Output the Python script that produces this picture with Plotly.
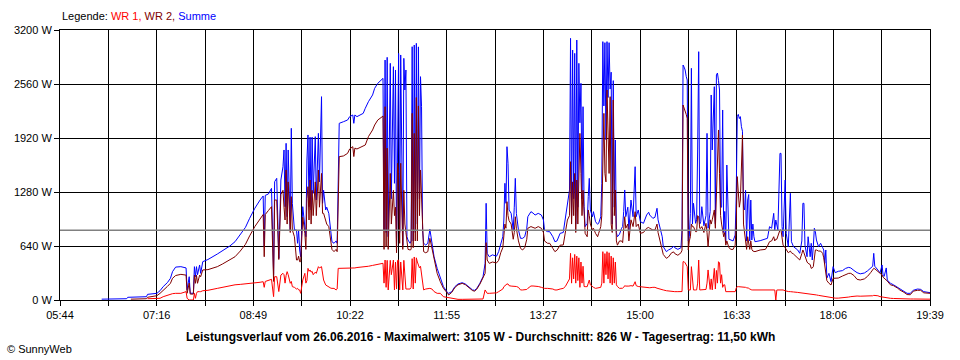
import datetime as dt
import plotly.graph_objects as go

DAY = "2016-06-26"
X_START, X_END = "05:44", "19:39"
TICK_LABELS = ["05:44", "07:16", "08:49", "10:22", "11:55", "13:27", "15:00", "16:33", "18:06", "19:39"]
Y_TICKS = [0, 640, 1280, 1920, 2560, 3200]
Y_TICK_LABELS = ["0 W", "640 W", "1280 W", "1920 W", "2560 W", "3200 W"]
AVERAGE = 826

TIMES = [
    "06:24", "06:48", "06:49", "06:52", "07:07", "07:08", "07:17", "07:20", "07:23", "07:27",
    "07:30", "07:32", "07:35", "07:40", "07:45", "07:46", "07:48", "07:49", "07:52", "07:53",
    "07:54", "07:55", "07:56", "07:58", "07:59", "08:01", "08:06", "08:15", "08:20", "08:27",
    "08:32", "08:37", "08:42", "08:46", "08:51", "08:56", "08:59", "09:00", "09:01", "09:04",
    "09:07", "09:09", "09:10", "09:12", "09:13", "09:14", "09:16", "09:18", "09:19", "09:20",
    "09:21", "09:22", "09:23", "09:25", "09:26", "09:27", "09:29", "09:31", "09:32", "09:33",
    "09:34", "09:35", "09:37", "09:39", "09:40", "09:41", "09:42", "09:43", "09:44", "09:45",
    "09:46", "09:47", "09:49", "09:50", "09:52", "09:53", "09:55", "09:56", "09:57", "09:59",
    "10:00", "10:02", "10:04", "10:05", "10:07", "10:09", "10:10", "10:11", "10:12", "10:16",
    "10:20", "10:22", "10:25", "10:26", "10:27", "10:29", "10:32", "10:35", "10:37", "10:40",
    "10:44", "10:46", "10:49", "10:53", "10:54", "10:55", "10:56", "10:57", "10:58", "10:59",
    "11:01", "11:02", "11:04", "11:05", "11:06", "11:07", "11:08", "11:09", "11:10", "11:11",
    "11:13", "11:14", "11:15", "11:16", "11:17", "11:18", "11:20", "11:21", "11:22", "11:23",
    "11:24", "11:25", "11:26", "11:27", "11:28", "11:29", "11:30", "11:31", "11:32", "11:33",
    "11:35", "11:37", "11:39", "11:41", "11:43", "11:46", "11:49", "11:52", "11:56", "11:57",
    "12:00", "12:03", "12:06", "12:10", "12:13", "12:16", "12:20", "12:22", "12:24", "12:27",
    "12:30", "12:32", "12:33", "12:34", "12:36", "12:39", "12:43", "12:45", "12:47", "12:49",
    "12:50", "12:51", "12:52", "12:53", "12:54", "12:55", "12:57", "12:59", "13:00", "13:01",
    "13:02", "13:04", "13:06", "13:08", "13:10", "13:12", "13:13", "13:16", "13:18", "13:20",
    "13:23", "13:26", "13:28", "13:29", "13:32", "13:34", "13:37", "13:39", "13:41", "13:44",
    "13:47", "13:49", "13:51", "13:53", "13:54", "13:55", "13:56", "13:57", "13:58", "13:59",
    "14:00", "14:01", "14:02", "14:03", "14:04", "14:05", "14:06", "14:07", "14:08", "14:10",
    "14:11", "14:12", "14:13", "14:15", "14:16", "14:18", "14:20", "14:21", "14:23", "14:24",
    "14:25", "14:26", "14:27", "14:28", "14:29", "14:30", "14:31", "14:32", "14:33", "14:34",
    "14:35", "14:36", "14:37", "14:38", "14:39", "14:41", "14:43", "14:44", "14:45", "14:46",
    "14:47", "14:49", "14:50", "14:52", "14:54", "14:56", "14:57", "14:59", "15:01", "15:04",
    "15:07", "15:09", "15:10", "15:13", "15:15", "15:17", "15:18", "15:20", "15:22", "15:23",
    "15:26", "15:28", "15:31", "15:33", "15:34", "15:37", "15:40", "15:41", "15:42", "15:43",
    "15:44", "15:45", "15:46", "15:47", "15:48", "15:49", "15:50", "15:51", "15:52", "15:54",
    "15:55", "15:56", "15:57", "15:58", "15:59", "16:00", "16:02", "16:04", "16:05", "16:06",
    "16:08", "16:09", "16:10", "16:12", "16:13", "16:14", "16:15", "16:16", "16:17", "16:18",
    "16:19", "16:20", "16:21", "16:22", "16:23", "16:24", "16:26", "16:28", "16:30", "16:32",
    "16:33", "16:34", "16:35", "16:36", "16:37", "16:38", "16:39", "16:40", "16:41", "16:42",
    "16:43", "16:44", "16:45", "16:46", "16:47", "16:48", "16:49", "16:50", "16:51", "16:56",
    "17:01", "17:03", "17:05", "17:07", "17:09", "17:10", "17:11", "17:12", "17:13", "17:15",
    "17:16", "17:17", "17:18", "17:20", "17:21", "17:22", "17:23", "17:25", "17:26", "17:28",
    "17:32", "17:34", "17:36", "17:37", "17:38", "17:39", "17:41", "17:42", "17:44", "17:45",
    "17:46", "17:47", "17:48", "17:49", "17:50", "17:52", "17:54", "17:56", "17:57", "17:58",
    "17:59", "18:00", "18:02", "18:04", "18:06", "18:08", "18:11", "18:15", "18:18", "18:21",
    "18:23", "18:26", "18:29", "18:32", "18:36", "18:39", "18:42", "18:44", "18:45", "18:46",
    "18:49", "18:51", "18:53", "18:54", "18:55", "18:57", "18:58", "19:01", "19:04", "19:08",
    "19:10", "19:14", "19:17", "19:20", "19:23", "19:27", "19:30", "19:33", "19:36", "19:39",
]

SUMME = [
    10, 15, 32, 32, 39, 67, 79, 110, 158, 205,
    257, 336, 390, 395, 380, 120, 276, 80, 80, 395,
    276, 395, 300, 415, 316, 454, 480, 545, 585, 640,
    691, 780, 861, 968, 1087, 1185, 1233, 640, 1240, 1256,
    1323, 300, 1402, 1442, 987, 494, 1422, 1580, 1778, 1106,
    1857, 987, 1778, 830, 2035, 1146, 830, 830, 672, 830,
    593, 513, 1106, 830, 750, 1659, 1956, 1106, 1930, 1067,
    1930, 1264, 1936, 1185, 1975, 1400, 2410, 1146, 1300, 1067,
    1100, 1027, 830, 691, 672, 700, 672, 1620, 2094, 2113,
    2133, 2173, 2193, 2094, 2193, 2173, 2193, 2212, 2272, 2350,
    2430, 2509, 2568, 2607, 2627, 830, 2844, 800, 2876, 750,
    2805, 1200, 2765, 1383, 2726, 632, 2113, 2923, 800, 2904,
    650, 2864, 2489, 2726, 750, 711, 672, 700, 3002, 700,
    3022, 800, 3042, 900, 3000, 1200, 2647, 2291, 830, 672,
    652, 672, 838, 700, 513, 375, 257, 158, 87, 79,
    99, 158, 190, 205, 190, 158, 119, 115, 138, 198,
    276, 435, 1146, 553, 513, 535, 520, 573, 672, 750,
    948, 1383, 1146, 1817, 1620, 1067, 1027, 830, 1100, 1442,
    1027, 830, 731, 731, 750, 850, 987, 1047, 1030, 1007,
    1027, 1007, 948, 830, 810, 810, 750, 691, 700, 790,
    800, 987, 1146, 1304, 3101, 1000, 2963, 1200, 2923, 900,
    3081, 1100, 2805, 2100, 2568, 1200, 2291, 1106, 869, 909,
    1225, 1442, 1067, 987, 1047, 928, 897, 909, 987, 1383,
    3062, 2300, 3050, 1900, 3062, 2400, 3050, 2500, 2700, 900,
    2600, 1100, 1896, 800, 750, 780, 850, 870, 1047, 1304,
    987, 1100, 830, 1185, 987, 1580, 987, 1067, 928, 909,
    1007, 1040, 1007, 968, 980, 1087, 950, 830, 750, 632,
    573, 593, 612, 640, 620, 600, 620, 830, 2785, 2760,
    2726, 2650, 2607, 700, 750, 1027, 2746, 900, 1146, 909,
    950, 1778, 2943, 900, 928, 1106, 880, 1000, 1975, 850,
    1050, 2430, 1778, 2528, 900, 2667, 2690, 2600, 2489, 1100,
    1100, 2252, 800, 1050, 691, 1600, 720, 711, 700, 770,
    1225, 2173, 2200, 2150, 2173, 2054, 2000, 1100, 1067, 1300,
    700, 1185, 1250, 700, 1185, 711, 900, 750, 691, 703,
    720, 731, 869, 850, 1027, 830, 948, 870, 830, 1738,
    1738, 870, 750, 1422, 790, 711, 632, 1264, 691, 632,
    593, 553, 700, 1146, 1146, 650, 513, 750, 513, 672,
    474, 632, 850, 810, 711, 632, 672, 620, 593, 435,
    593, 260, 316, 217, 395, 324, 340, 348, 375, 387,
    380, 350, 324, 310, 320, 345, 375, 400, 553, 400,
    356, 320, 415, 290, 280, 380, 237, 198, 180, 150,
    126, 99, 79, 79, 115, 130, 126, 99, 90, 87,
]

WR2 = [
    None, None, None, 10, 15, 32, 51, 79, 110, 160,
    198, 257, 290, 304, 295, 80, 200, 70, 70, 296,
    198, 294, 198, 294, 276, 356, 360, 395, 427, 474,
    513, 580, 660, 760, 870, 960, 1013, 513, 1013, 1060,
    1106, 220, 1185, 1185, 830, 480, 1250, 1300, 1100, 948,
    1541, 900, 1400, 800, 1225, 830, 750, 474, 474, 520,
    454, 454, 980, 790, 600, 1200, 1343, 948, 1422, 900,
    1300, 1000, 1400, 1000, 1541, 1100, 1500, 1027, 1027, 948,
    900, 869, 672, 600, 573, 600, 573, 1300, 1699, 1707,
    1738, 1790, 1817, 1700, 1800, 1790, 1809, 1820, 1837, 1936,
    2015, 2074, 2133, 2170, 2181, 600, 2291, 632, 1800, 600,
    1500, 900, 1300, 1000, 1100, 560, 1620, 1500, 672, 1620,
    600, 1300, 900, 800, 650, 600, 593, 600, 2212, 620,
    1975, 700, 2400, 700, 2300, 1000, 1541, 1225, 711, 573,
    560, 573, 731, 600, 474, 316, 217, 138, 79, 59,
    90, 148, 180, 197, 182, 150, 111, 105, 128, 188,
    266, 316, 680, 474, 434, 450, 440, 470, 560, 620,
    760, 900, 850, 1165, 1000, 940, 900, 720, 800, 987,
    850, 700, 612, 593, 620, 720, 850, 870, 860, 850,
    870, 850, 800, 700, 672, 672, 612, 573, 590, 650,
    652, 790, 948, 1000, 1639, 900, 1400, 1000, 1500, 800,
    1422, 900, 1700, 1975, 1500, 1000, 1300, 909, 790, 750,
    1067, 1000, 900, 830, 850, 790, 750, 790, 869, 1000,
    1800, 2212, 1500, 1400, 2489, 1817, 1500, 2410, 900, 800,
    2370, 1000, 1304, 700, 650, 700, 700, 680, 900, 987,
    850, 900, 700, 950, 870, 1047, 870, 900, 790, 800,
    850, 860, 850, 830, 830, 900, 800, 700, 612, 540,
    494, 510, 560, 570, 550, 530, 560, 590, 2311, 2280,
    2252, 2200, 2153, 593, 700, 750, 900, 869, 869, 810,
    810, 1000, 987, 850, 850, 870, 800, 909, 800, 632,
    950, 900, 950, 1067, 850, 1225, 1400, 2015, 1500, 1000,
    900, 800, 750, 800, 650, 700, 620, 600, 600, 650,
    900, 1462, 1185, 1100, 1185, 1580, 1956, 900, 800, 700,
    600, 750, 650, 600, 700, 600, 580, 573, 573, 593,
    600, 640, 691, 700, 750, 700, 720, 720, 760, 830,
    830, 750, 650, 620, 600, 593, 560, 580, 560, 545,
    494, 474, 550, 593, 560, 513, 450, 435, 420, 375,
    380, 395, 500, 593, 593, 580, 580, 553, 500, 420,
    300, 230, 198, 178, 257, 257, 260, 284, 300, 316,
    316, 290, 245, 237, 250, 280, 324, 350, 375, 370,
    340, 310, 296, 270, 260, 240, 225, 180, 170, 140,
    119, 91, 65, 62, 105, 115, 115, 85, 80, 79,
]

WR1 = [
    None, None, None, None, None, 15, 20, 20, 39, 55,
    71, 75, 79, 79, 99, 20, 0, 0, 0, 79,
    20, 79, 99, 99, 99, 110, 115, 138, 150, 170,
    180, 185, 190, 195, 200, 210, 217, 150, 220, 230,
    245, 40, 276, 276, 200, 100, 296, 316, 300, 200,
    290, 336, 300, 198, 220, 158, 150, 130, 138, 120,
    119, 79, 237, 316, 200, 230, 375, 340, 356, 330,
    340, 300, 330, 316, 395, 380, 395, 300, 237, 178,
    170, 150, 140, 138, 138, 119, 130, 375, 375, 375,
    375, 375, 380, 380, 380, 385, 387, 390, 395, 400,
    410, 415, 425, 435, 435, 200, 474, 150, 470, 119,
    470, 300, 474, 119, 450, 130, 470, 474, 120, 450,
    119, 470, 300, 130, 130, 130, 130, 150, 490, 130,
    510, 200, 500, 450, 420, 380, 400, 300, 158, 120,
    130, 138, 138, 130, 100, 79, 79, 39, 30, 20,
    15, 10, 8, 8, 8, 8, 10, 10, 10, 10,
    12, 119, 100, 79, 79, 85, 85, 99, 110, 130,
    158, 170, 180, 190, 190, 170, 165, 165, 165, 165,
    160, 150, 119, 119, 119, 125, 138, 166, 166, 166,
    160, 150, 138, 138, 138, 138, 130, 119, 119, 130,
    138, 160, 198, 250, 553, 200, 500, 250, 540, 200,
    520, 230, 500, 150, 450, 200, 400, 160, 158, 158,
    200, 237, 180, 158, 150, 138, 140, 145, 150, 200,
    573, 200, 550, 300, 573, 250, 560, 200, 520, 180,
    500, 200, 450, 180, 160, 138, 140, 140, 150, 170,
    165, 160, 165, 170, 165, 217, 170, 160, 158, 155,
    150, 145, 145, 150, 150, 140, 135, 125, 119, 119,
    110, 105, 99, 99, 99, 99, 99, 100, 454, 454,
    440, 420, 395, 119, 119, 119, 395, 200, 119, 119,
    119, 200, 474, 119, 119, 119, 119, 125, 200, 356,
    125, 250, 120, 375, 130, 350, 200, 454, 440, 200,
    300, 150, 180, 180, 99, 99, 99, 99, 99, 99,
    140, 158, 158, 158, 158, 155, 150, 150, 150, 150,
    145, 145, 140, 130, 119, 119, 119, 119, 119, 119,
    119, 119, 119, 119, 119, 119, 0, 119, 119, 119,
    119, 119, 119, 110, 105, 100, 100, 99, 99, 95,
    90, 87, 87, 85, 85, 85, 80, 78, 75, 72,
    71, 70, 70, 65, 60, 55, 51, 50, 48, 45,
    40, 35, 32, 30, 25, 22, 22, 25, 28, 35,
    40, 45, 47, 45, 45, 47, 47, 50, 55, 55,
    50, 40, 35, 30, 30, 25, 22, 20, 18, 15,
    12, 12, 12, 12, 12, 12, 12, 10, 10, 10,
]

x = [f"{DAY} {t}" for t in TIMES]

fig = go.Figure()
fig.add_trace(go.Scatter(x=x, y=SUMME, mode="lines", name="Summe",
                         line=dict(color="#0000FF", width=1)))
fig.add_trace(go.Scatter(x=x, y=WR2, mode="lines", name="WR 2",
                         line=dict(color="#800000", width=1)))
fig.add_trace(go.Scatter(x=x, y=WR1, mode="lines", name="WR 1",
                         line=dict(color="#FF0000", width=1)))

t0 = dt.datetime.strptime(f"{DAY} {X_START}", "%Y-%m-%d %H:%M")
t1 = dt.datetime.strptime(f"{DAY} {X_END}", "%Y-%m-%d %H:%M")
n_grid = 2 * (len(TICK_LABELS) - 1)
step = (t1 - t0) / n_grid
grid_vals = [t0 + i * step for i in range(n_grid + 1)]
grid_text = [TICK_LABELS[i // 2] if i % 2 == 0 else "" for i in range(n_grid + 1)]

FONT = "Liberation Sans, Arial, sans-serif"

fig.update_layout(
    width=960, height=360,
    margin=dict(l=60, r=30, t=30, b=60),
    plot_bgcolor="white", paper_bgcolor="white",
    showlegend=False,
    font=dict(family=FONT, size=11, color="black"),
    xaxis=dict(
        type="date", range=[t0, t1],
        tickmode="array", tickvals=grid_vals, ticktext=grid_text,
        showgrid=True, gridcolor="black", gridwidth=1,
        ticks="outside", ticklen=5, tickcolor="black",
        showline=True, linecolor="black", linewidth=1, mirror=True,
        zeroline=False, layer="above traces",
    ),
    yaxis=dict(
        range=[0, 3200],
        tickmode="array", tickvals=Y_TICKS, ticktext=Y_TICK_LABELS,
        showgrid=True, gridcolor="black", gridwidth=1,
        ticks="outside", ticklen=5, tickcolor="black",
        showline=True, linecolor="black", linewidth=1, mirror=True,
        zeroline=False, layer="above traces",
    ),
    shapes=[dict(type="line", xref="paper", x0=0, x1=1, yref="y",
                 y0=AVERAGE, y1=AVERAGE, layer="above",
                 line=dict(color="#808080", width=1.5))],
    annotations=[
        dict(xref="paper", yref="paper", x=0, y=1.052, xanchor="left", yanchor="middle",
             showarrow=False, font=dict(family=FONT, size=11, color="black"),
             text="Legende: <span style='color:#FF0000'>WR 1,</span> "
                  "<span style='color:#800000'>WR 2,</span> "
                  "<span style='color:#0000FF'>Summe</span>"),
        dict(xref="paper", yref="paper", x=0.4828, y=-0.137, xanchor="center", yanchor="middle",
             showarrow=False, font=dict(family=FONT, size=12, color="black"),
             text="<b>Leistungsverlauf vom 26.06.2016 - Maximalwert: 3105 W - "
                  "Durchschnitt: 826 W - Tagesertrag: 11,50 kWh</b>"),
        dict(xref="paper", yref="paper", x=-0.0632, y=-0.1815, xanchor="left", yanchor="middle",
             showarrow=False, font=dict(family=FONT, size=11, color="black"),
             text="© SunnyWeb"),
    ],
)

fig.write_html("out.html", config={"displayModeBar": False},
               post_script="document.body.style.margin='0';document.body.style.overflow='hidden';")
